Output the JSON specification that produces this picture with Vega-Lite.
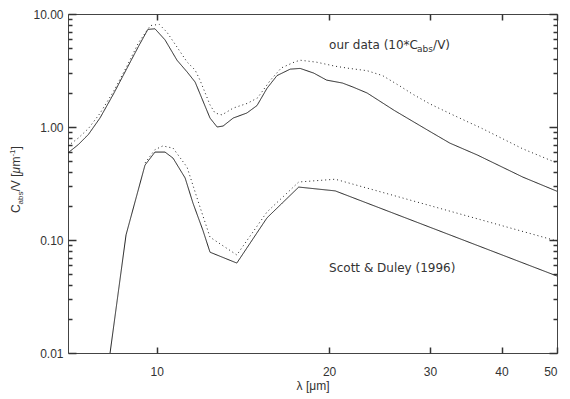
{
  "$schema": "https://vega.github.io/schema/vega-lite/v6.json",
  "width": 489,
  "height": 339,
  "autosize": {"type": "none"},
  "padding": {"left": 68, "top": 14, "right": 13, "bottom": 46},
  "background": "white",
  "config": {
    "view": {"stroke": "#444", "strokeWidth": 1},
    "axis": {"grid": false, "domain": false, "labelFont": "Liberation Sans", "labelFontSize": 12, "labelColor": "#333", "titleFont": "Liberation Sans", "titleFontWeight": "normal", "titleFontSize": 12, "titleColor": "#333"}
  },
  "datasets": {
    "curves": [
      {"lam": 7.0, "val": 0.59, "curve": "ours_s", "style": "solid"},
      {"lam": 7.3, "val": 0.7, "curve": "ours_s", "style": "solid"},
      {"lam": 7.6, "val": 0.86, "curve": "ours_s", "style": "solid"},
      {"lam": 7.96, "val": 1.2, "curve": "ours_s", "style": "solid"},
      {"lam": 8.4, "val": 1.95, "curve": "ours_s", "style": "solid"},
      {"lam": 8.87, "val": 3.3, "curve": "ours_s", "style": "solid"},
      {"lam": 9.3, "val": 5.2, "curve": "ours_s", "style": "solid"},
      {"lam": 9.65, "val": 7.3, "curve": "ours_s", "style": "solid"},
      {"lam": 9.93, "val": 7.4, "curve": "ours_s", "style": "solid"},
      {"lam": 10.34, "val": 5.9, "curve": "ours_s", "style": "solid"},
      {"lam": 10.85, "val": 3.9, "curve": "ours_s", "style": "solid"},
      {"lam": 11.3, "val": 3.07, "curve": "ours_s", "style": "solid"},
      {"lam": 11.67, "val": 2.5, "curve": "ours_s", "style": "solid"},
      {"lam": 12.39, "val": 1.2, "curve": "ours_s", "style": "solid"},
      {"lam": 12.75, "val": 1.0, "curve": "ours_s", "style": "solid"},
      {"lam": 13.06, "val": 1.02, "curve": "ours_s", "style": "solid"},
      {"lam": 13.6, "val": 1.2, "curve": "ours_s", "style": "solid"},
      {"lam": 14.37, "val": 1.33, "curve": "ours_s", "style": "solid"},
      {"lam": 14.97, "val": 1.55, "curve": "ours_s", "style": "solid"},
      {"lam": 15.58, "val": 2.2, "curve": "ours_s", "style": "solid"},
      {"lam": 16.22, "val": 2.85, "curve": "ours_s", "style": "solid"},
      {"lam": 17.1, "val": 3.25, "curve": "ours_s", "style": "solid"},
      {"lam": 17.8, "val": 3.3, "curve": "ours_s", "style": "solid"},
      {"lam": 18.8, "val": 3.0, "curve": "ours_s", "style": "solid"},
      {"lam": 19.8, "val": 2.6, "curve": "ours_s", "style": "solid"},
      {"lam": 21.1, "val": 2.45, "curve": "ours_s", "style": "solid"},
      {"lam": 22.0, "val": 2.26, "curve": "ours_s", "style": "solid"},
      {"lam": 23.3, "val": 2.0, "curve": "ours_s", "style": "solid"},
      {"lam": 26.0, "val": 1.4, "curve": "ours_s", "style": "solid"},
      {"lam": 29.7, "val": 0.94, "curve": "ours_s", "style": "solid"},
      {"lam": 32.5, "val": 0.72, "curve": "ours_s", "style": "solid"},
      {"lam": 36.3, "val": 0.565, "curve": "ours_s", "style": "solid"},
      {"lam": 43.6, "val": 0.36, "curve": "ours_s", "style": "solid"},
      {"lam": 50.0, "val": 0.27, "curve": "ours_s", "style": "solid"},

      {"lam": 7.0, "val": 0.68, "curve": "ours_d", "style": "dotted"},
      {"lam": 7.3, "val": 0.8, "curve": "ours_d", "style": "dotted"},
      {"lam": 7.6, "val": 0.97, "curve": "ours_d", "style": "dotted"},
      {"lam": 7.96, "val": 1.32, "curve": "ours_d", "style": "dotted"},
      {"lam": 8.4, "val": 2.05, "curve": "ours_d", "style": "dotted"},
      {"lam": 8.87, "val": 3.45, "curve": "ours_d", "style": "dotted"},
      {"lam": 9.3, "val": 5.6, "curve": "ours_d", "style": "dotted"},
      {"lam": 9.75, "val": 7.9, "curve": "ours_d", "style": "dotted"},
      {"lam": 10.1, "val": 8.1, "curve": "ours_d", "style": "dotted"},
      {"lam": 10.42, "val": 6.9, "curve": "ours_d", "style": "dotted"},
      {"lam": 10.85, "val": 5.1, "curve": "ours_d", "style": "dotted"},
      {"lam": 11.3, "val": 3.76, "curve": "ours_d", "style": "dotted"},
      {"lam": 11.67, "val": 3.19, "curve": "ours_d", "style": "dotted"},
      {"lam": 11.9, "val": 2.6, "curve": "ours_d", "style": "dotted"},
      {"lam": 12.39, "val": 1.57, "curve": "ours_d", "style": "dotted"},
      {"lam": 12.64, "val": 1.33, "curve": "ours_d", "style": "dotted"},
      {"lam": 13.0, "val": 1.28, "curve": "ours_d", "style": "dotted"},
      {"lam": 13.6, "val": 1.47, "curve": "ours_d", "style": "dotted"},
      {"lam": 14.4, "val": 1.62, "curve": "ours_d", "style": "dotted"},
      {"lam": 15.0, "val": 1.81, "curve": "ours_d", "style": "dotted"},
      {"lam": 15.8, "val": 2.6, "curve": "ours_d", "style": "dotted"},
      {"lam": 16.5, "val": 3.33, "curve": "ours_d", "style": "dotted"},
      {"lam": 17.4, "val": 3.76, "curve": "ours_d", "style": "dotted"},
      {"lam": 17.8, "val": 3.9, "curve": "ours_d", "style": "dotted"},
      {"lam": 19.0, "val": 3.75, "curve": "ours_d", "style": "dotted"},
      {"lam": 20.5, "val": 3.45, "curve": "ours_d", "style": "dotted"},
      {"lam": 21.7, "val": 3.3, "curve": "ours_d", "style": "dotted"},
      {"lam": 23.3, "val": 3.15, "curve": "ours_d", "style": "dotted"},
      {"lam": 24.8, "val": 2.85, "curve": "ours_d", "style": "dotted"},
      {"lam": 26.6, "val": 2.3, "curve": "ours_d", "style": "dotted"},
      {"lam": 28.0, "val": 1.95, "curve": "ours_d", "style": "dotted"},
      {"lam": 30.0, "val": 1.6, "curve": "ours_d", "style": "dotted"},
      {"lam": 33.0, "val": 1.27, "curve": "ours_d", "style": "dotted"},
      {"lam": 37.0, "val": 0.97, "curve": "ours_d", "style": "dotted"},
      {"lam": 43.6, "val": 0.64, "curve": "ours_d", "style": "dotted"},
      {"lam": 50.0, "val": 0.48, "curve": "ours_d", "style": "dotted"},

      {"lam": 8.29, "val": 0.01, "curve": "sd_s", "style": "solid"},
      {"lam": 8.84, "val": 0.111, "curve": "sd_s", "style": "solid"},
      {"lam": 9.54, "val": 0.46, "curve": "sd_s", "style": "solid"},
      {"lam": 9.93, "val": 0.6, "curve": "sd_s", "style": "solid"},
      {"lam": 10.34, "val": 0.6, "curve": "sd_s", "style": "solid"},
      {"lam": 10.68, "val": 0.53, "curve": "sd_s", "style": "solid"},
      {"lam": 11.21, "val": 0.354, "curve": "sd_s", "style": "solid"},
      {"lam": 11.57, "val": 0.212, "curve": "sd_s", "style": "solid"},
      {"lam": 12.04, "val": 0.122, "curve": "sd_s", "style": "solid"},
      {"lam": 12.39, "val": 0.078, "curve": "sd_s", "style": "solid"},
      {"lam": 13.8, "val": 0.0625, "curve": "sd_s", "style": "solid"},
      {"lam": 15.58, "val": 0.157, "curve": "sd_s", "style": "solid"},
      {"lam": 17.7, "val": 0.294, "curve": "sd_s", "style": "solid"},
      {"lam": 20.5, "val": 0.272, "curve": "sd_s", "style": "solid"},
      {"lam": 50.0, "val": 0.048, "curve": "sd_s", "style": "solid"},

      {"lam": 9.54, "val": 0.48, "curve": "sd_d", "style": "dotted"},
      {"lam": 9.93, "val": 0.63, "curve": "sd_d", "style": "dotted"},
      {"lam": 10.25, "val": 0.68, "curve": "sd_d", "style": "dotted"},
      {"lam": 10.68, "val": 0.65, "curve": "sd_d", "style": "dotted"},
      {"lam": 11.3, "val": 0.44, "curve": "sd_d", "style": "dotted"},
      {"lam": 11.9, "val": 0.196, "curve": "sd_d", "style": "dotted"},
      {"lam": 12.39, "val": 0.106, "curve": "sd_d", "style": "dotted"},
      {"lam": 13.8, "val": 0.0737, "curve": "sd_d", "style": "dotted"},
      {"lam": 15.58, "val": 0.177, "curve": "sd_d", "style": "dotted"},
      {"lam": 17.7, "val": 0.326, "curve": "sd_d", "style": "dotted"},
      {"lam": 20.5, "val": 0.345, "curve": "sd_d", "style": "dotted"},
      {"lam": 50.0, "val": 0.098, "curve": "sd_d", "style": "dotted"}
    ]
  },
  "resolve": {"axis": {"x": "independent", "y": "independent"}},
  "layer": [
    {
      "data": {"name": "curves"},
      "mark": {"type": "line", "color": "#222", "strokeWidth": 1, "clip": true},
      "encoding": {
        "x": {"field": "lam", "type": "quantitative", "scale": {"type": "log", "domain": [7, 50], "nice": false},
              "axis": {"orient": "bottom", "values": [10, 20, 30, 40, 50], "format": "d", "ticks": true, "tickColor": "#333", "tickWidth": 1.5, "tickSize": -6, "labelPadding": 19, "title": "λ [μm]", "titlePadding": 3}},
        "y": {"field": "val", "type": "quantitative", "scale": {"type": "log", "domain": [0.01, 10], "nice": false},
              "axis": {"orient": "left", "values": [0.01, 0.1, 1, 10], "format": ".2f", "ticks": true, "tickColor": "#333", "tickWidth": 1.5, "tickSize": -8, "labelPadding": 13, "title": null}},
        "detail": {"field": "curve"},
        "strokeDash": {"field": "style", "type": "nominal", "scale": {"domain": ["solid", "dotted"], "range": [[1, 0], [1, 3]]}, "legend": null}
      }
    },
    {
      "data": {"name": "curves"},
      "mark": {"type": "line", "opacity": 0},
      "encoding": {
        "x": {"field": "lam", "type": "quantitative", "scale": {"type": "log", "domain": [7, 50], "nice": false},
              "axis": {"orient": "top", "values": [10, 20, 30, 40, 50], "labels": false, "ticks": true, "tickColor": "#333", "tickWidth": 1.5, "tickSize": -6, "title": null}},
        "y": {"field": "val", "type": "quantitative", "scale": {"type": "log", "domain": [0.01, 10], "nice": false},
              "axis": {"orient": "right", "values": [0.01, 0.1, 1, 10], "labels": false, "ticks": true, "tickColor": "#333", "tickWidth": 1.5, "tickSize": -8, "title": null}},
        "detail": {"field": "curve"}
      }
    },
    {
      "data": {"name": "curves"},
      "mark": {"type": "line", "opacity": 0},
      "encoding": {
        "x": {"field": "lam", "type": "quantitative", "scale": {"type": "log", "domain": [7, 50], "nice": false}, "axis": null},
        "y": {"field": "val", "type": "quantitative", "scale": {"type": "log", "domain": [0.01, 10], "nice": false},
              "axis": {"orient": "left", "values": [0.02, 0.03, 0.04, 0.05, 0.06, 0.07, 0.08, 0.09, 0.2, 0.3, 0.4, 0.5, 0.6, 0.7, 0.8, 0.9, 2, 3, 4, 5, 6, 7, 8, 9], "labels": false, "ticks": true, "tickColor": "#333", "tickWidth": 1.5, "tickSize": -4, "title": null}},
        "detail": {"field": "curve"}
      }
    },
    {
      "data": {"name": "curves"},
      "mark": {"type": "line", "opacity": 0},
      "encoding": {
        "x": {"field": "lam", "type": "quantitative", "scale": {"type": "log", "domain": [7, 50], "nice": false}, "axis": null},
        "y": {"field": "val", "type": "quantitative", "scale": {"type": "log", "domain": [0.01, 10], "nice": false},
              "axis": {"orient": "right", "values": [0.02, 0.03, 0.04, 0.05, 0.06, 0.07, 0.08, 0.09, 0.2, 0.3, 0.4, 0.5, 0.6, 0.7, 0.8, 0.9, 2, 3, 4, 5, 6, 7, 8, 9], "labels": false, "ticks": true, "tickColor": "#333", "tickWidth": 1.5, "tickSize": -4, "title": null}},
        "detail": {"field": "curve"}
      }
    },
    {
      "data": {"values": [{}]},
      "layer": [
        {"mark": {"type": "text", "text": "our data (10*C", "font": "DejaVu Sans", "fontSize": 12, "align": "left", "baseline": "alphabetic", "color": "#333", "dx": 0}},
        {"mark": {"type": "text", "text": "abs", "font": "DejaVu Sans", "fontSize": 9, "align": "left", "baseline": "alphabetic", "color": "#333", "dx": 88, "dy": 3}},
        {"mark": {"type": "text", "text": "/V)", "font": "DejaVu Sans", "fontSize": 12, "align": "left", "baseline": "alphabetic", "color": "#333", "dx": 104}}
      ],
      "encoding": {
        "x": {"datum": 20, "type": "quantitative", "scale": {"type": "log", "domain": [7, 50], "nice": false}, "axis": null},
        "y": {"datum": 4.9, "type": "quantitative", "scale": {"type": "log", "domain": [0.01, 10], "nice": false}, "axis": null}
      }
    },
    {
      "data": {"values": [{}]},
      "mark": {"type": "text", "text": "Scott & Duley (1996)", "font": "DejaVu Sans", "fontSize": 12, "align": "left", "baseline": "alphabetic", "color": "#333"},
      "encoding": {
        "x": {"datum": 20, "type": "quantitative", "scale": {"type": "log", "domain": [7, 50], "nice": false}, "axis": null},
        "y": {"datum": 0.052, "type": "quantitative", "scale": {"type": "log", "domain": [0.01, 10], "nice": false}, "axis": null}
      }
    },
    {
      "data": {"values": [{}]},
      "layer": [
        {"mark": {"type": "text", "text": "C", "font": "Liberation Sans", "fontSize": 12, "angle": 270, "align": "left", "baseline": "alphabetic", "color": "#333", "dx": 0, "dy": -48}},
        {"mark": {"type": "text", "text": "abs", "font": "Liberation Sans", "fontSize": 8, "angle": 270, "align": "left", "baseline": "alphabetic", "color": "#333", "dx": 8.7, "dy": -45}},
        {"mark": {"type": "text", "text": "/V [", "font": "Liberation Sans", "fontSize": 12, "angle": 270, "align": "left", "baseline": "alphabetic", "color": "#333", "dx": 21.6, "dy": -48}},
        {"mark": {"type": "text", "text": "μ", "font": "Liberation Sans", "fontSize": 12, "fontStyle": "italic", "angle": 270, "align": "left", "baseline": "alphabetic", "color": "#333", "dx": 39.6, "dy": -48}},
        {"mark": {"type": "text", "text": "m", "font": "Liberation Sans", "fontSize": 12, "angle": 270, "align": "left", "baseline": "alphabetic", "color": "#333", "dx": 46.5, "dy": -48}},
        {"mark": {"type": "text", "text": "-1", "font": "Liberation Sans", "fontSize": 8, "angle": 270, "align": "left", "baseline": "alphabetic", "color": "#333", "dx": 56.5, "dy": -53}},
        {"mark": {"type": "text", "text": "]", "font": "Liberation Sans", "fontSize": 12, "angle": 270, "align": "left", "baseline": "alphabetic", "color": "#333", "dx": 63.6, "dy": -48}}
      ],
      "encoding": {
        "x": {"datum": 7, "type": "quantitative", "scale": {"type": "log", "domain": [7, 50], "nice": false}, "axis": null},
        "y": {"datum": 0.173, "type": "quantitative", "scale": {"type": "log", "domain": [0.01, 10], "nice": false}, "axis": null}
      }
    }
  ]
}
